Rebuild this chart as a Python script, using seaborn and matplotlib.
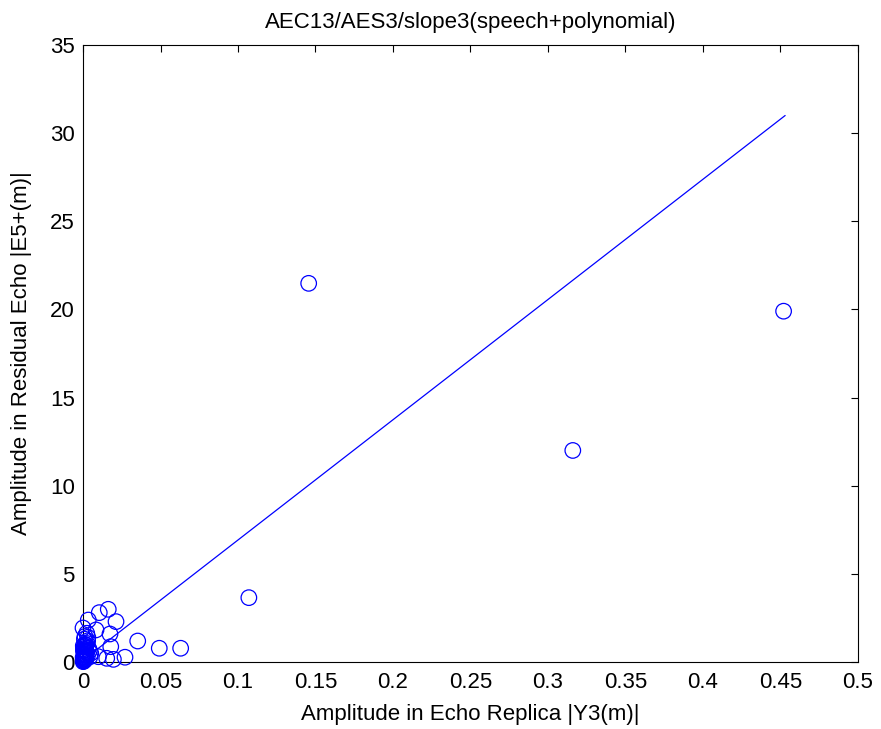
import matplotlib
matplotlib.use("Agg")
import matplotlib.pyplot as plt
from matplotlib.ticker import FuncFormatter
import pandas as pd
import seaborn as sns

# Scatter samples: echo replica amplitude vs residual echo amplitude
replica_amp = [
    0.4520, 0.3160, 0.1456, 0.1070, 0.0630, 0.0492, 0.0353, 0.0271,
    0.0196, 0.0153, 0.0099, 0.0163, 0.0105, 0.0034, 0.0213, 0.0084,
    0.0174, 0.0179, 0.0000, 0.0024, 0.0013,
    0.0005, 0.0010, 0.0008, 0.0015, 0.0020, 0.0003, 0.0012, 0.0025,
    0.0030, 0.0018, 0.0007, 0.0004, 0.0022, 0.0035, 0.0042, 0.0050,
    0.0028, 0.0009, 0.0014, 0.0001, 0.0006, 0.0011, 0.0019, 0.0031,
    0.0045,
    0.0002, 0.0004, 0.0006, 0.0008, 0.0010, 0.0012, 0.0016, 0.0003,
    0.0005, 0.0007, 0.0009, 0.0013, 0.0017, 0.0021, 0.0001, 0.0002,
]
residual_amp = [
    19.90, 12.00, 21.48, 3.65, 0.78, 0.78, 1.19, 0.27,
    0.15, 0.21, 0.30, 2.99, 2.80, 2.38, 2.29, 1.82,
    1.59, 0.87, 1.93, 1.63, 1.45,
    0.05, 0.15, 0.30, 0.45, 0.60, 0.75, 0.90, 1.05,
    1.20, 0.20, 0.40, 0.10, 0.55, 0.80, 0.65, 0.50,
    0.35, 1.30, 1.00, 0.25, 0.70, 0.12, 0.95, 1.40,
    0.30,
    0.08, 0.18, 0.28, 0.38, 0.48, 0.58, 0.68, 0.62,
    0.85, 0.22, 0.42, 0.33, 0.15, 0.52, 0.02, 0.92,
]

# Fitted linear trend
fit_x = [0.0, 0.453]
fit_y = [0.10, 31.00]

x_ticks = [0, 0.05, 0.1, 0.15, 0.2, 0.25, 0.3, 0.35, 0.4, 0.45, 0.5]
y_ticks = [0, 5, 10, 15, 20, 25, 30, 35]

sns.set_style("white")
plt.rcParams["font.family"] = ["Liberation Sans", "DejaVu Sans"]
plt.rcParams["font.size"] = 16
plt.rcParams["text.color"] = "black"
plt.rcParams["axes.labelcolor"] = "black"

fig = plt.figure(figsize=(8.81, 7.29), dpi=100)
ax = fig.add_axes([83 / 881, 1 - 662 / 729, (858 - 83) / 881, (662 - 45) / 729])

df = pd.DataFrame({"replica": replica_amp, "residual": residual_amp})
sns.scatterplot(data=df, x="replica", y="residual", ax=ax, marker="o", s=125,
                facecolor="none", edgecolor="#0000ff", linewidth=0.9,
                zorder=3, clip_on=False)
sns.lineplot(x=fit_x, y=fit_y, ax=ax, color="#0000ff", linewidth=0.9, zorder=2)

ax.set_xlim(0, 0.5)
ax.set_ylim(0, 35)
ax.set_xticks(x_ticks)
ax.set_yticks(y_ticks)
ax.xaxis.set_major_formatter(FuncFormatter(lambda v, p: f"{v:g}"))
ax.yaxis.set_major_formatter(FuncFormatter(lambda v, p: f"{v:g}"))
ax.tick_params(axis="both", which="major", direction="in", length=5, width=0.8,
               top=True, right=True, labelsize=16, colors="black")
ax.tick_params(axis="x", pad=7)
ax.tick_params(axis="y", pad=6)

for sp in ax.spines.values():
    sp.set_visible(True)
    sp.set_color("black")
    sp.set_linewidth(0.8)

ax.set_xlabel("Amplitude in Echo Replica |Y3(m)|", fontsize=16, labelpad=8,
              color="black")
ax.set_ylabel("Amplitude in Residual Echo |E5+(m)|", fontsize=16, labelpad=13,
              color="black")
ax.set_title("AEC13/AES3/slope3(speech+polynomial)", fontsize=16, pad=12,
             color="black")

fig.savefig("out.png", dpi=100)
